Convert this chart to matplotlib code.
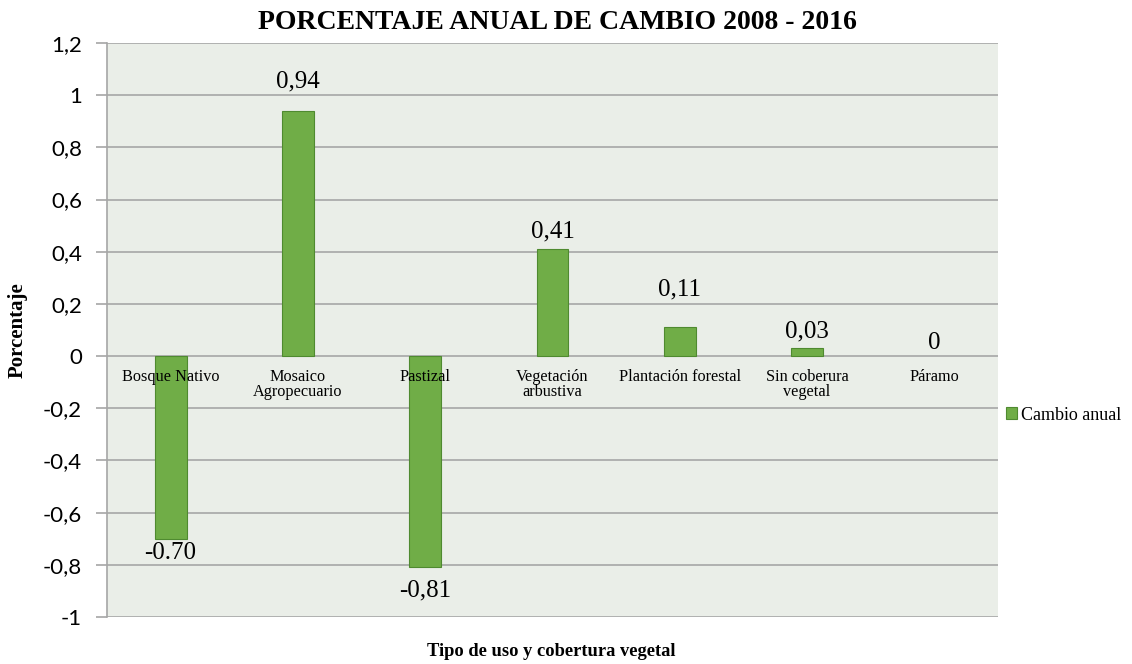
import numpy as np
import matplotlib.pyplot as plt
import matplotlib as mpl

categorias = ["Bosque Nativo", "Mosaico\nAgropecuario", "Pastizal", "Vegetación\narbustiva",
              "Plantación forestal", "Sin coberura\nvegetal", "Páramo"]
cambio = [-0.70, 0.94, -0.81, 0.41, 0.11, 0.03, 0.0]
etiquetas = ["-0.70", "0,94", "-0,81", "0,41", "0,11", "0,03", "0"]
yticks = [1.2, 1, 0.8, 0.6, 0.4, 0.2, 0, -0.2, -0.4, -0.6, -0.8, -1]
ytick_labels = ["1,2", "1", "0,8", "0,6", "0,4", "0,2", "0", "-0,2", "-0,4", "-0,6", "-0,8", "-1"]

# distancia (px) entre el extremo de la barra y el centro de la etiqueta
sep_etiqueta = [14, 29, 23, 18, 38, 17, 13]

serif = ["Liberation Serif", "DejaVu Serif"]
mpl.rcParams['font.family'] = serif

fig = plt.figure(figsize=(11.32, 6.64), dpi=100)
ax = fig.add_axes([0.0945, 0.0708, 0.7871, 0.8644])
ax.set_facecolor("#EAEEE8")

x = np.arange(len(categorias))
bordes = [0.8 if v != 0 else 0 for v in cambio]
bars = ax.bar(x, cambio, width=0.25, color="#70AD47", edgecolor="#4F8A30",
              linewidth=bordes, label="Cambio anual", zorder=3)

for xi, v, txt, sep in zip(x, cambio, etiquetas, sep_etiqueta):
    dy = -sep * 0.72 if v < 0 else sep * 0.72
    ax.annotate(txt, (xi, v), xytext=(0, dy), textcoords="offset points",
                ha="center", va="center", fontsize=18, zorder=4)

ax.set_xlim(-0.5, len(categorias) - 0.5)
ax.set_ylim(-1, 1.2)
ax.set_yticks(yticks)
ax.set_yticklabels(ytick_labels, family=["Lato", "DejaVu Sans"], fontsize=16)
ax.yaxis.grid(True, color="#A6A6A6", linewidth=1.2, zorder=1)
ax.tick_params(axis="y", length=8, color="#A6A6A6", width=1.2, pad=10)

# etiquetas de categoria sobre el eje en y=0
ax.spines['bottom'].set_position(('data', 0))
ax.spines['bottom'].set_visible(False)
ax.set_xticks(x)
ax.set_xticklabels(categorias, fontsize=11.7, linespacing=0.95)
ax.tick_params(axis="x", length=0, pad=9)
ax.xaxis.set_zorder(5)

for s in ["top", "right"]:
    ax.spines[s].set_visible(False)
ax.spines["left"].set_color("#A6A6A6")
ax.spines["left"].set_linewidth(1.2)

fig.text(0.492, 0.966, "PORCENTAJE ANUAL DE CAMBIO 2008 - 2016", ha="center", va="center",
         fontsize=20, fontweight="bold")
ax.set_ylabel("Porcentaje", fontsize=15, fontweight="bold")
ax.yaxis.set_label_coords(-0.0886, 0.5)
fig.text(0.487, 0.012, "Tipo de uso y cobertura vegetal", ha="center", fontsize=13.3, fontweight="bold")

fig.legend(handles=[bars], labels=["Cambio anual"], loc="center left",
           bbox_to_anchor=(0.889, 0.375), frameon=False, fontsize=13,
           handlelength=0.6, handleheight=0.6, handletextpad=0.2,
           borderpad=0, borderaxespad=0)

fig.savefig("out.png", dpi=100)
